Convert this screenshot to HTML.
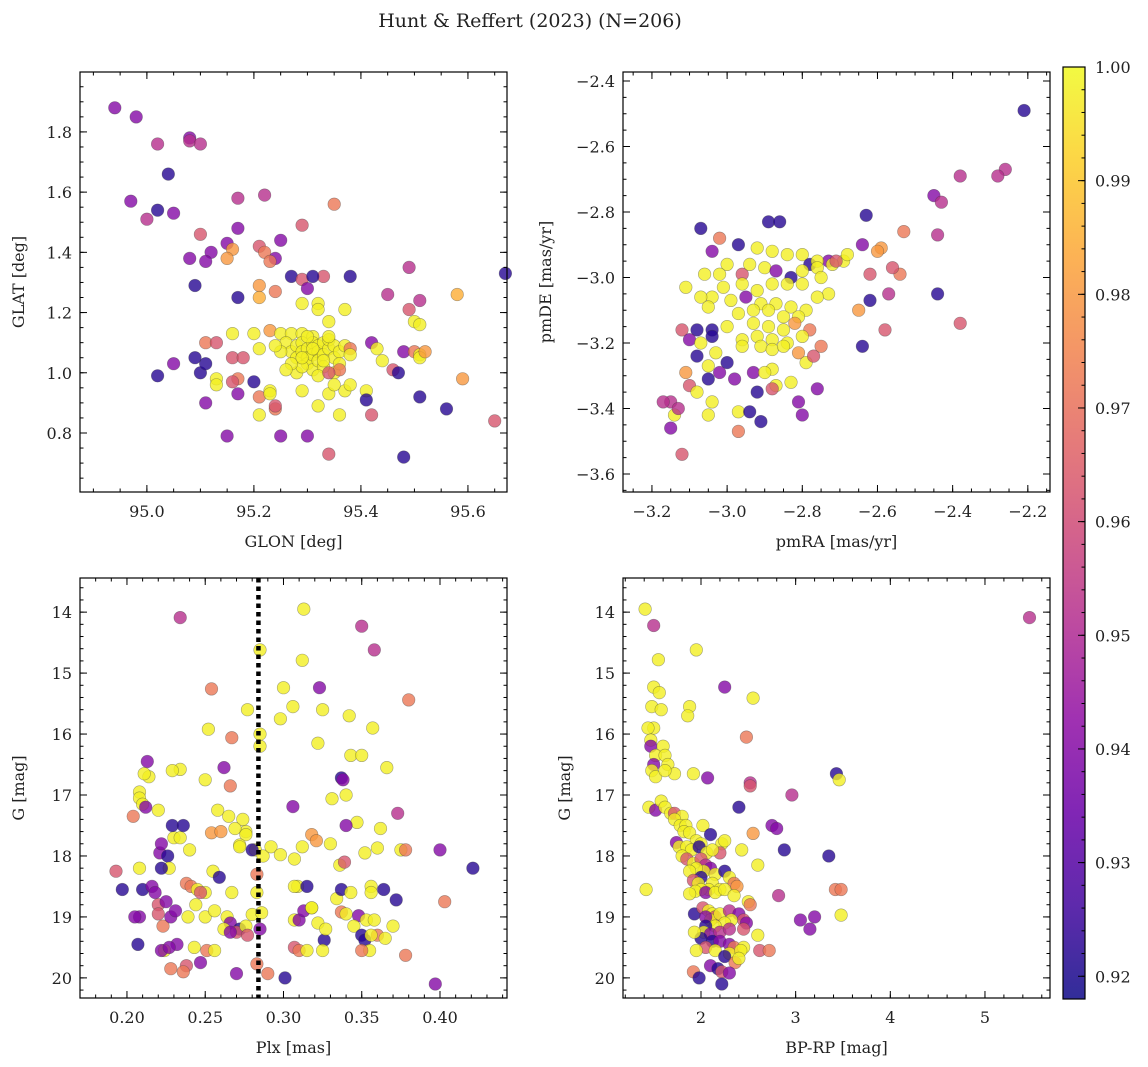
<!DOCTYPE html>
<html><head><meta charset="utf-8">
<style>
html,body{margin:0;padding:0;background:#fff;}
svg{display:block;font-family:"DejaVu Serif","Liberation Serif",serif;}
</style></head>
<body>
<svg id="fig" width="1148" height="1067" viewBox="0 0 1148 1067" xmlns="http://www.w3.org/2000/svg">
<text x="530" y="27" text-anchor="middle" font-size="19" fill="#222">Hunt &amp; Reffert (2023) (N=206)</text>
<defs><linearGradient id="cbg" x1="0" y1="1" x2="0" y2="0"></linearGradient></defs>
</svg>
<script>
// ---------- data ----------
const p1Glon=[94.94,94.98,95.02,95.08,95.08,95.10,95.04,94.97,95.02,95.05,95.00,95.10,95.17,95.22,95.35,95.29,95.17,95.15,95.16,95.15,95.12,95.11,95.08,95.21,95.22,95.25,95.24,95.23,95.27,95.29,95.30,95.33,95.31,95.38,95.09,95.17,95.21,95.21,95.24,95.29,95.32,95.32,95.37,95.34,95.11,95.13,95.16,95.20,95.21,95.23,95.25,95.27,95.29,95.31,
95.26,95.27,95.28,95.28,95.29,95.29,95.30,95.30,95.30,95.31,95.31,95.31,95.32,95.32,95.32,95.33,95.33,95.33,95.34,95.34,95.35,95.35,95.35,95.36,95.36,95.37,95.28,95.29,95.25,95.27,95.24,95.26,95.30,95.32,95.34,95.31,95.29,95.33,
95.16,95.18,95.17,95.16,95.13,95.13,95.10,95.11,95.05,95.02,95.09,95.11,95.15,95.17,95.20,95.21,95.23,95.23,95.21,95.24,95.24,95.25,95.30,95.29,95.34,95.36,95.32,95.37,95.35,95.38,95.34,95.41,95.42,95.41,95.36,95.34,95.38,95.38,95.42,95.43,95.46,95.44,95.45,95.49,95.50,95.51,95.58,95.47,95.48,95.50,95.51,95.51,95.52,95.49,95.51,95.51,95.56,95.59,95.65,95.67,95.48];
const p1Glat=[1.88,1.85,1.76,1.78,1.77,1.76,1.66,1.57,1.54,1.53,1.51,1.46,1.58,1.59,1.56,1.49,1.48,1.43,1.41,1.38,1.40,1.37,1.38,1.42,1.40,1.44,1.38,1.37,1.32,1.31,1.28,1.32,1.32,1.32,1.29,1.25,1.29,1.25,1.27,1.23,1.23,1.21,1.21,1.17,1.10,1.10,1.13,1.13,1.08,1.14,1.13,1.13,1.13,1.12,
1.10,1.07,1.09,1.05,1.10,1.07,1.08,1.05,1.03,1.10,1.06,1.01,1.09,1.07,1.04,1.10,1.06,1.02,1.08,1.11,1.09,1.05,1.00,1.07,1.03,1.09,1.00,1.02,1.07,1.03,1.09,1.01,1.12,0.99,1.12,1.08,1.05,1.04,
1.05,1.05,0.98,0.97,0.98,0.96,1.00,1.03,1.03,0.99,1.05,0.90,0.79,0.93,0.97,0.92,0.94,0.93,0.86,0.88,0.89,0.79,0.79,0.94,0.93,0.86,0.89,0.94,0.96,0.96,0.73,0.94,0.86,0.91,1.01,1.00,1.08,1.06,1.10,1.08,1.01,1.04,1.26,1.21,1.17,1.16,1.26,1.00,1.07,1.07,1.06,1.05,1.07,1.35,1.24,0.92,0.88,0.98,0.84,1.33,0.72];
const p1Prob=[.94,.94,.952,.94,.952,.952,.922,.94,.922,.94,.952,.963,.952,.952,.972,.963,.94,.94,.98,.98,.94,.94,.94,.963,.972,.94,.94,.972,.922,.963,.94,.963,.922,.922,.922,.922,.98,.985,.972,.998,.998,.998,.998,.998,.972,.963,.998,.998,.998,.98,.998,.998,.998,.998,
.998,.998,.998,.998,.998,.998,.998,.998,.998,.998,.998,.998,.998,.998,.998,.998,.998,.998,.998,.998,.998,.998,.998,.998,.998,.998,.998,.998,.998,.998,.998,.998,.998,.998,.998,.998,.998,.998,
.963,.963,.972,.963,.998,.998,.922,.922,.94,.922,.922,.94,.94,.94,.922,.972,.998,.998,.998,.972,.963,.94,.94,.998,.998,.998,.998,.998,.998,.998,.963,.998,.963,.922,.972,.963,.972,.998,.94,.998,.963,.998,.952,.963,.998,.998,.985,.922,.94,.972,.998,.998,.98,.952,.952,.922,.922,.98,.963,.922,.922];

const p2PmRA=[-2.21,-2.26,-2.28,-2.38,-2.45,-2.43,-2.44,-2.44,-2.38,-2.63,-2.53,-2.54,-2.56,-2.59,-2.60,-2.64,-2.62,-2.62,-2.57,-2.65,-2.58,-2.64,
-2.89,-2.86,-3.07,-3.02,-2.97,-3.04,-2.92,-2.88,-2.84,-2.80,-2.78,-2.73,-2.69,-2.72,-2.76,-2.71,-2.68,-2.76,-2.75,-2.73,-2.76,
-3.00,-3.02,-3.06,-2.96,-2.94,-2.90,-2.87,-2.83,-2.80,-2.80,-2.84,-2.88,-2.92,-2.96,-3.01,-3.04,-3.07,-3.11,-3.05,-2.99,-2.95,-2.91,-2.87,-2.83,-2.79,-2.81,-2.85,-2.89,-2.93,-2.97,-2.93,-2.89,-2.85,-2.82,-2.78,-2.80,-2.84,-2.88,-2.92,-2.96,-3.00,-3.04,-3.04,-3.08,-3.12,-3.10,-3.07,-3.03,-3.00,-2.96,-2.91,-2.88,-2.85,-2.81,-2.79,-2.77,-2.75,
-3.08,-3.05,-3.02,-3.11,-3.10,-3.08,-3.05,-2.98,-2.93,-2.88,-2.87,-2.83,-2.92,-2.88,-2.76,-3.04,-3.05,-2.97,-2.94,-2.91,-2.97,-2.80,-2.81,-3.15,-3.17,-3.15,-3.14,-3.13,-3.12,-2.90];
const p2PmDE=[-2.49,-2.67,-2.69,-2.69,-2.75,-2.77,-2.87,-3.05,-3.14,-2.81,-2.86,-2.99,-2.97,-2.91,-2.92,-2.90,-2.99,-3.07,-3.05,-3.10,-3.16,-3.21,
-2.83,-2.83,-2.85,-2.88,-2.90,-2.92,-2.91,-2.92,-2.93,-2.93,-2.96,-2.95,-2.95,-2.96,-2.95,-2.95,-2.93,-2.97,-3.00,-3.05,-3.06,
-2.96,-2.99,-2.99,-2.99,-2.96,-2.97,-2.98,-3.00,-2.98,-3.02,-3.02,-3.02,-3.04,-3.02,-3.03,-3.06,-3.06,-3.03,-3.09,-3.07,-3.06,-3.08,-3.08,-3.09,-3.10,-3.12,-3.12,-3.10,-3.10,-3.11,-3.14,-3.15,-3.16,-3.14,-3.16,-3.18,-3.20,-3.19,-3.18,-3.19,-3.15,-3.16,-3.18,-3.16,-3.16,-3.19,-3.20,-3.23,-3.26,-3.21,-3.21,-3.22,-3.21,-3.23,-3.26,-3.24,-3.21,
-3.24,-3.27,-3.29,-3.29,-3.33,-3.35,-3.31,-3.31,-3.29,-3.28,-3.33,-3.32,-3.35,-3.34,-3.34,-3.38,-3.42,-3.41,-3.41,-3.44,-3.47,-3.42,-3.38,-3.38,-3.38,-3.46,-3.42,-3.40,-3.54,-3.29];
const p2Prob=[.922,.952,.952,.952,.94,.952,.952,.922,.963,.922,.972,.972,.963,.98,.98,.94,.963,.922,.952,.98,.963,.922,
.922,.922,.922,.972,.922,.94,.998,.998,.998,.998,.922,.94,.998,.998,.998,.963,.998,.998,.998,.998,.998,
.998,.998,.998,.963,.998,.998,.94,.922,.998,.998,.998,.998,.998,.998,.998,.998,.998,.998,.998,.998,.94,.998,.998,.998,.998,.998,.998,.998,.998,.998,.998,.998,.998,.98,.972,.998,.998,.998,.998,.998,.998,.922,.922,.922,.963,.94,.998,.998,.922,.998,.998,.998,.998,.98,.998,.963,.972,
.922,.998,.94,.98,.963,.998,.922,.94,.94,.998,.998,.998,.922,.963,.94,.998,.998,.998,.922,.922,.972,.94,.94,.952,.952,.94,.998,.952,.963,.998];

const p3Plx=[.234,.313,.350,.358,.312,.285,.254,.323,.300,.306,.298,.277,.380,.325,.342,.357,.285,.252,.267,.234,.229,.262,.213,.214,.211,.322,.343,.350,.366,.337,.338,.373,.250,.266,.208,.208,.210,.212,.204,.220,.258,.274,.265,.276,.306,.331,.340,.347,.340,.362,.230,.234,
.254,.260,.269,.276,.229,.236,.221,.222,.240,.226,.272,.272,.282,.280,.287,.292,.318,.321,.330,.312,.352,.360,.375,.378,.400,.421,.307,.336,.339,.208,.193,.227,.222,.255,.283,.298,
.197,.210,.216,.218,.220,.225,.238,.241,.245,.250,.247,.259,.267,.283,.309,.307,.315,.334,.337,.343,.356,.356,.364,.372,.208,.205,.220,.223,.228,.231,.239,.244,.250,.256,.264,.266,.272,.270,.262,.280,.286,.307,.310,.313,.318,.318,.322,.337,.340,.348,.345,.353,.358,.370,.403,
.326,.327,.350,.352,.360,.356,.365,.207,.232,.224,.222,.227,.243,.251,.256,.266,.276,.285,.277,.307,.310,.315,.325,.355,.350,.378,.238,.228,.236,.247,.283,.270,.290,.301,.397,.285];
const p3G=[14.09,13.95,14.23,14.62,14.79,14.62,15.26,15.24,15.24,15.55,15.75,15.6,15.44,15.6,15.7,15.9,16.2,15.92,16.06,16.58,16.6,16.55,16.45,16.7,16.65,16.15,16.35,16.35,16.55,16.72,16.75,17.3,16.75,16.85,16.95,17.05,17.15,17.2,17.35,17.25,17.25,17.4,17.35,17.6,17.19,17.06,17.0,17.45,17.5,17.55,17.7,17.7,
17.62,17.6,17.55,17.65,17.5,17.5,17.95,17.8,17.9,18.0,17.82,17.85,17.9,17.9,18.0,17.85,17.65,17.75,17.8,17.85,17.95,17.87,17.9,17.9,17.9,18.2,18.05,18.15,18.1,18.2,18.25,18.2,18.2,18.25,18.3,17.98,
18.55,18.55,18.5,18.6,18.8,18.75,18.45,18.5,18.55,18.6,18.6,18.35,18.6,18.6,18.5,18.5,18.5,18.7,18.55,18.6,18.5,18.6,18.55,18.72,19.0,19.0,18.95,19.15,19.0,18.9,19.0,18.8,19.0,18.9,19.0,19.1,19.2,19.25,19.2,18.96,18.93,19.05,19.05,18.9,18.85,18.85,19.1,18.92,18.95,18.98,19.15,19.05,19.05,19.15,18.75,
19.38,19.2,19.3,19.38,19.3,19.3,19.35,19.45,19.45,19.55,19.55,19.5,19.5,19.55,19.55,19.25,19.15,19.2,19.3,19.5,19.55,19.55,19.55,19.55,19.55,19.63,19.8,19.85,19.9,19.75,19.77,19.93,19.93,20.0,20.1,16.0];
const p3Prob=[.952,.998,.952,.952,.998,.998,.972,.94,.998,.998,.998,.998,.972,.998,.998,.998,.998,.998,.972,.998,.998,.94,.94,.998,.998,.998,.998,.998,.998,.922,.94,.952,.998,.972,.998,.998,.998,.94,.972,.998,.998,.998,.998,.998,.94,.998,.998,.998,.94,.998,.998,.998,
.98,.98,.998,.998,.922,.922,.94,.94,.998,.922,.998,.998,.998,.922,.998,.998,.98,.98,.998,.998,.998,.998,.998,.972,.94,.922,.998,.998,.963,.998,.963,.998,.922,.998,.972,.998,
.922,.922,.94,.94,.963,.94,.972,.972,.998,.998,.963,.922,.998,.998,.998,.998,.922,.998,.922,.998,.998,.998,.922,.922,.94,.94,.963,.972,.94,.94,.998,.998,.998,.998,.998,.94,.922,.963,.998,.998,.998,.998,.94,.94,.998,.998,.998,.972,.998,.94,.998,.998,.998,.998,.972,
.922,.998,.922,.922,.972,.998,.998,.922,.94,.998,.94,.94,.998,.972,.998,.94,.998,.94,.963,.963,.972,.998,.998,.998,.972,.972,.963,.972,.972,.94,.972,.94,.972,.922,.94,.998];

const p4BpRp=[1.41,1.50,5.47,1.95,1.55,1.50,1.56,2.25,2.55,1.48,1.58,1.88,1.86,2.48,1.50,1.44,1.47,1.47,1.60,1.52,1.62,1.50,1.48,1.52,1.65,1.72,1.62,1.92,2.07,2.52,2.52,3.43,3.46,2.96,1.45,1.52,1.58,1.62,1.68,1.72,1.80,1.72,1.78,1.84,1.82,1.88,2.02,2.10,2.22,2.25,2.40,2.75,2.80,2.55,1.95,1.74,1.77,1.85,1.90,2.00,1.98,2.06,2.20,2.12,2.43,2.60,2.88,3.35,
1.80,1.85,1.92,2.00,2.05,2.10,2.03,1.95,1.88,2.15,2.25,2.30,2.00,1.92,1.97,2.12,2.20,2.35,2.38,2.08,2.00,1.94,1.88,1.42,2.05,2.15,2.25,2.35,2.50,2.52,2.82,3.42,3.48,1.93,2.02,2.08,2.12,2.15,2.10,2.05,2.20,2.30,2.40,2.45,2.48,2.32,2.25,2.15,2.05,2.03,2.10,2.20,2.30,2.45,2.60,3.05,3.15,3.20,3.48,
2.00,2.12,2.20,2.30,2.35,2.45,2.05,2.15,1.95,2.30,2.42,2.62,2.72,2.25,2.36,1.92,2.10,2.18,2.22,2.30,1.98,2.22,1.93,2.40];
const p4G=[13.95,14.22,14.09,14.62,14.78,15.23,15.32,15.23,15.41,15.55,15.6,15.55,15.7,16.05,15.9,15.9,16.1,16.2,16.2,16.35,16.35,16.5,16.6,16.7,16.5,16.65,16.6,16.65,16.72,16.8,16.85,16.65,16.75,17.0,17.2,17.25,17.1,17.2,17.3,17.3,17.35,17.4,17.5,17.5,17.6,17.62,17.5,17.65,17.8,17.75,17.2,17.5,17.55,17.63,17.75,17.78,17.85,17.85,17.9,17.8,17.85,17.95,17.95,17.9,17.9,18.15,17.9,18.0,
18.0,18.05,18.12,18.05,18.15,18.2,18.25,18.2,18.25,18.3,18.25,18.35,18.35,18.4,18.45,18.45,18.55,18.45,18.5,18.55,18.55,18.58,18.62,18.55,18.6,18.6,18.55,18.65,18.75,18.8,18.65,18.55,18.55,18.95,18.85,18.9,18.95,19.0,19.05,19.0,18.95,18.9,18.95,19.05,19.1,19.05,19.1,19.15,19.15,19.25,19.28,19.25,19.2,19.2,19.3,19.05,19.2,19.0,18.97,
19.35,19.4,19.4,19.45,19.5,19.5,19.5,19.55,19.55,19.6,19.55,19.55,19.55,19.65,19.75,19.9,19.8,19.85,19.9,19.92,20.0,20.1,19.25,19.68];
const p4Prob=[.998,.952,.952,.998,.998,.998,.998,.94,.998,.998,.998,.998,.998,.972,.998,.998,.998,.94,.998,.998,.998,.94,.998,.998,.998,.998,.998,.998,.94,.952,.963,.922,.998,.952,.998,.94,.998,.998,.998,.963,.998,.998,.998,.998,.998,.998,.998,.922,.998,.998,.922,.94,.94,.98,.998,.94,.998,.998,.998,.998,.922,.998,.963,.998,.998,.998,.922,.922,
.998,.963,.998,.963,.952,.94,.998,.998,.998,.998,.922,.998,.922,.963,.998,.998,.998,.972,.98,.998,.998,.998,.998,.998,.94,.998,.998,.998,.998,.972,.952,.972,.972,.922,.963,.998,.998,.963,.998,.94,.998,.952,.94,.963,.94,.998,.998,.998,.922,.998,.94,.952,.952,.963,.998,.94,.94,.94,.998,
.922,.922,.94,.94,.972,.998,.963,.998,.998,.998,.998,.963,.972,.922,.972,.972,.94,.922,.963,.94,.922,.922,.998,.998];

const cbTicks=[0.92,0.93,0.94,0.95,0.96,0.97,0.98,0.99,1.00];
const cbMin=0.918, cbMax=1.0;

// ---------- helpers ----------
const NS="http://www.w3.org/2000/svg";
const svg=document.getElementById('fig');
const plasmaStops=[[13,8,135],[65,4,157],[106,0,168],[143,13,164],[177,42,144],[204,71,120],[225,100,98],[242,132,75],[252,166,54],[252,206,37],[240,249,33]];
function plasma(t){t=Math.max(0,Math.min(1,t));const f=t*10,i=Math.min(9,Math.floor(f)),r=f-i;const a=plasmaStops[i],b=plasmaStops[i+1];
 return 'rgb('+a.map((v,k)=>Math.round(v+(b[k]-v)*r)).join(',')+')';}
function colorOf(c){return plasma((c-cbMin)/(cbMax-cbMin));}
function mk(tag,attrs,parent){const e=document.createElementNS(NS,tag);for(const k in attrs)e.setAttribute(k,attrs[k]);(parent||svg).appendChild(e);return e;}
function fmtMinus(s){return s.replace('-','\u2212');}

function panel(cfg){
 const g=mk('g',{});
 
 
 const {x0,y0,x1,y1}=cfg.box;
 const sx=v=>x0+(v-cfg.xr[0])/(cfg.xr[1]-cfg.xr[0])*(x1-x0);
 const sy=v=>y0+(v-cfg.yr[0])/(cfg.yr[1]-cfg.yr[0])*(y1-y0);
 const pg=mk('g',{},g);
 
 
 for(let i=0;i<cfg.xs.length;i++){
  const c=mk('circle',{cx:sx(cfg.xs[i]).toFixed(1),cy:sy(cfg.ys[i]).toFixed(1),r:6.3,fill:colorOf(cfg.cs[i]),'fill-opacity':0.8,stroke:'rgba(60,60,60,0.45)','stroke-width':0.6},pg);
  
  
 }
 if(cfg.vline!==undefined){
  const l=mk('line',{x1:sx(cfg.vline),x2:sx(cfg.vline),y1:y0,y2:y1,stroke:'#000','stroke-width':4.5,'stroke-dasharray':'4.5,4'},g);
  
  
 }
 const fr=mk('rect',{x:x0,y:y0,width:x1-x0,height:y1-y0,fill:'none',stroke:'#000','stroke-width':1.2},g);
 
 
 const tg=mk('g',{stroke:'#000','stroke-width':1},g);
 const xlo=Math.min(...cfg.xr),xhi=Math.max(...cfg.xr),ylo=Math.min(...cfg.yr),yhi=Math.max(...cfg.yr);
 function ticks(lo,hi,step){const a=[];for(let k=Math.ceil(lo/step-1e-9);k<=Math.floor(hi/step+1e-9);k++)a.push(+(k*step).toFixed(6));return a;}
 ticks(xlo,xhi,cfg.xminor).forEach(v=>{const x=sx(v);mk('line',{x1:x,x2:x,y1:y1,y2:y1-3.5},tg);mk('line',{x1:x,x2:x,y1:y0,y2:y0+3.5},tg);});
 ticks(ylo,yhi,cfg.yminor).forEach(v=>{const y=sy(v);mk('line',{x1:x0,x2:x0+3.5,y1:y,y2:y},tg);mk('line',{x1:x1,x2:x1-3.5,y1:y,y2:y},tg);});
 ticks(xlo,xhi,cfg.xmajor).forEach(v=>{const x=sx(v);mk('line',{x1:x,x2:x,y1:y1,y2:y1-7},tg);mk('line',{x1:x,x2:x,y1:y0,y2:y0+7},tg);
  const t=mk('text',{x:x,y:y1+25,'text-anchor':'middle','font-size':16,fill:'#222'},g);t.textContent=fmtMinus(v.toFixed(cfg.xdec));
  });
 ticks(ylo,yhi,cfg.ymajor).forEach(v=>{const y=sy(v);mk('line',{x1:x0,x2:x0+7,y1:y,y2:y},tg);mk('line',{x1:x1,x2:x1-7,y1:y,y2:y},tg);
  const t=mk('text',{x:x0-8,y:y+6,'text-anchor':'end','font-size':16,fill:'#222'},g);t.textContent=fmtMinus(v.toFixed(cfg.ydec));
  });
 const xl=mk('text',{x:(x0+x1)/2,y:y1+55,'text-anchor':'middle','font-size':16,fill:'#222'},g);xl.textContent=cfg.xlabel;
 
 const yl=mk('text',{x:0,y:0,'text-anchor':'middle','font-size':16,fill:'#222',transform:`translate(${cfg.ylx},${(y0+y1)/2}) rotate(-90)`},g);yl.textContent=cfg.ylabel;
 
}

panel({name:'panel-glon-glat',box:{x0:80,y0:72,x1:507,y1:492},xr:[94.875,95.673],yr:[1.999,0.604],xs:p1Glon,ys:p1Glat,cs:p1Prob,
 xmajor:0.2,xminor:0.05,ymajor:0.2,yminor:0.05,xdec:1,ydec:1,xlabel:'GLON [deg]',ylabel:'GLAT [deg]',ylx:24});
panel({name:'panel-proper-motion',box:{x0:623,y0:72,x1:1050,y1:492},xr:[-3.277,-2.141],yr:[-2.3725,-3.655],xs:p2PmRA,ys:p2PmDE,cs:p2Prob,
 xmajor:0.2,xminor:0.05,ymajor:0.2,yminor:0.05,xdec:1,ydec:1,xlabel:'pmRA [mas/yr]',ylabel:'pmDE [mas/yr]',ylx:551});
panel({name:'panel-plx-g',box:{x0:80,y0:578,x1:507,y1:998},xr:[0.170,0.4428],yr:[13.44,20.33],xs:p3Plx,ys:p3G,cs:p3Prob,vline:0.284,
 xmajor:0.05,xminor:0.01,ymajor:1,yminor:0.2,xdec:2,ydec:0,xlabel:'Plx [mas]',ylabel:'G [mag]',ylx:24});
panel({name:'panel-cmd',box:{x0:623,y0:578,x1:1050,y1:998},xr:[1.176,5.687],yr:[13.44,20.33],xs:p4BpRp,ys:p4G,cs:p4Prob,
 xmajor:1,xminor:0.2,ymajor:1,yminor:0.2,xdec:0,ydec:0,xlabel:'BP-RP [mag]',ylabel:'G [mag]',ylx:570});

// colorbar
const grad=document.getElementById('cbg');
for(let i=0;i<=20;i++){mk('stop',{offset:(i/20),'stop-color':plasma(i/20),'stop-opacity':0.85},grad);}
const cb=mk('g',{});


const cy0=67,cy1=999,cx0=1063,cx1=1085;
mk('rect',{x:cx0,y:cy0,width:cx1-cx0,height:cy1-cy0,fill:'url(#cbg)',stroke:'#000','stroke-width':1.2},cb);
const cby=v=>cy1-(v-cbMin)/(cbMax-cbMin)*(cy1-cy0);
for(let k=Math.ceil(cbMin/0.002);k<=Math.floor(cbMax/0.002+1e-9);k++){const y=cby(k*0.002);mk('line',{x1:cx1,x2:cx1-3.5,y1:y,y2:y,stroke:'#000'},cb);}
cbTicks.forEach(v=>{const y=cby(v);mk('line',{x1:cx1,x2:cx1-7,y1:y,y2:y,stroke:'#000'},cb);
 const t=mk('text',{x:cx1+10,y:y+6,'font-size':16,fill:'#222'},cb);t.textContent=v.toFixed(2);
 });
</script>
</body></html>
